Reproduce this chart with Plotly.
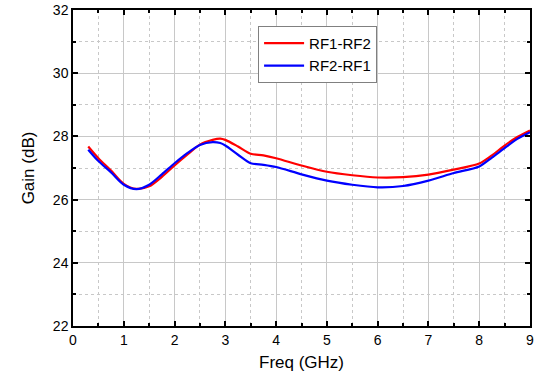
import plotly.graph_objects as go

freq = [0.3, 0.5, 0.75, 1.0, 1.25, 1.5, 1.75, 2.0, 2.25, 2.5, 2.75, 2.9, 3.0, 3.25, 3.5,
        3.75, 4.0, 4.5, 5.0, 5.5, 6.0, 6.5, 7.0, 7.5, 8.0, 8.25, 8.5, 8.75, 9.0]
rf1_rf2 = [27.68, 27.31, 26.92, 26.50, 26.34, 26.42, 26.72, 27.08, 27.42, 27.74, 27.89, 27.93,
           27.89, 27.68, 27.45, 27.40, 27.31, 27.08, 26.88, 26.77, 26.70, 26.71, 26.79, 26.95,
           27.14, 27.40, 27.71, 27.98, 28.19]
rf2_rf1 = [27.58, 27.22, 26.86, 26.47, 26.33, 26.47, 26.80, 27.15, 27.47, 27.73, 27.82, 27.79,
           27.71, 27.42, 27.15, 27.10, 27.03, 26.80, 26.60, 26.47, 26.39, 26.43, 26.60, 26.84,
           27.05, 27.33, 27.63, 27.92, 28.13]

font = "Liberation Sans, Arial, sans-serif"

fig = go.Figure()
fig.add_trace(go.Scatter(x=freq, y=rf1_rf2, name="RF1-RF2", mode="lines",
                         line=dict(color="#ff0000", width=2.2, shape="spline", smoothing=0.8)))
fig.add_trace(go.Scatter(x=freq, y=rf2_rf1, name="RF2-RF1", mode="lines",
                         line=dict(color="#0000ff", width=2.2, shape="spline", smoothing=0.8)))

axis_common = dict(
    showline=True, linecolor="black", linewidth=1.5, mirror="allticks",
    ticks="inside", ticklen=5, tickcolor="black", tickwidth=1.5,
    showgrid=True, gridcolor="#c8c8c8", gridwidth=1,
    zeroline=False, automargin=False,
    tickfont=dict(family=font, size=14, color="black"),
)

fig.update_xaxes(
    range=[0, 9], dtick=1, tick0=0,
    title=dict(text="Freq (GHz)", font=dict(family=font, size=17, color="black"), standoff=10),
    minor=dict(dtick=0.5, showgrid=True, griddash="dot", gridcolor="#c8c8c8",
               ticks="inside", ticklen=3, tickcolor="black"),
    **axis_common,
)
fig.update_yaxes(
    range=[22, 32], dtick=2, tick0=22,
    title=dict(text="Gain (dB)", font=dict(family=font, size=17, color="black"), standoff=14),
    minor=dict(dtick=1, showgrid=True, griddash="dot", gridcolor="#c8c8c8",
               ticks="inside", ticklen=3, tickcolor="black"),
    **axis_common,
)

fig.update_layout(
    width=547, height=377,
    margin=dict(l=73, r=17, t=10, b=51),
    plot_bgcolor="white", paper_bgcolor="white",
    font=dict(family=font, size=14, color="black"),
    showlegend=True,
    legend=dict(x=0.405, y=0.95, xanchor="left", yanchor="top",
                bordercolor="#808080", borderwidth=1, bgcolor="white",
                font=dict(family=font, size=15, color="black"),
                tracegroupgap=0, itemwidth=40),
)

fig.write_html("out.html", config={"displayModeBar": False},
               post_script="document.body.style.margin='0';")
